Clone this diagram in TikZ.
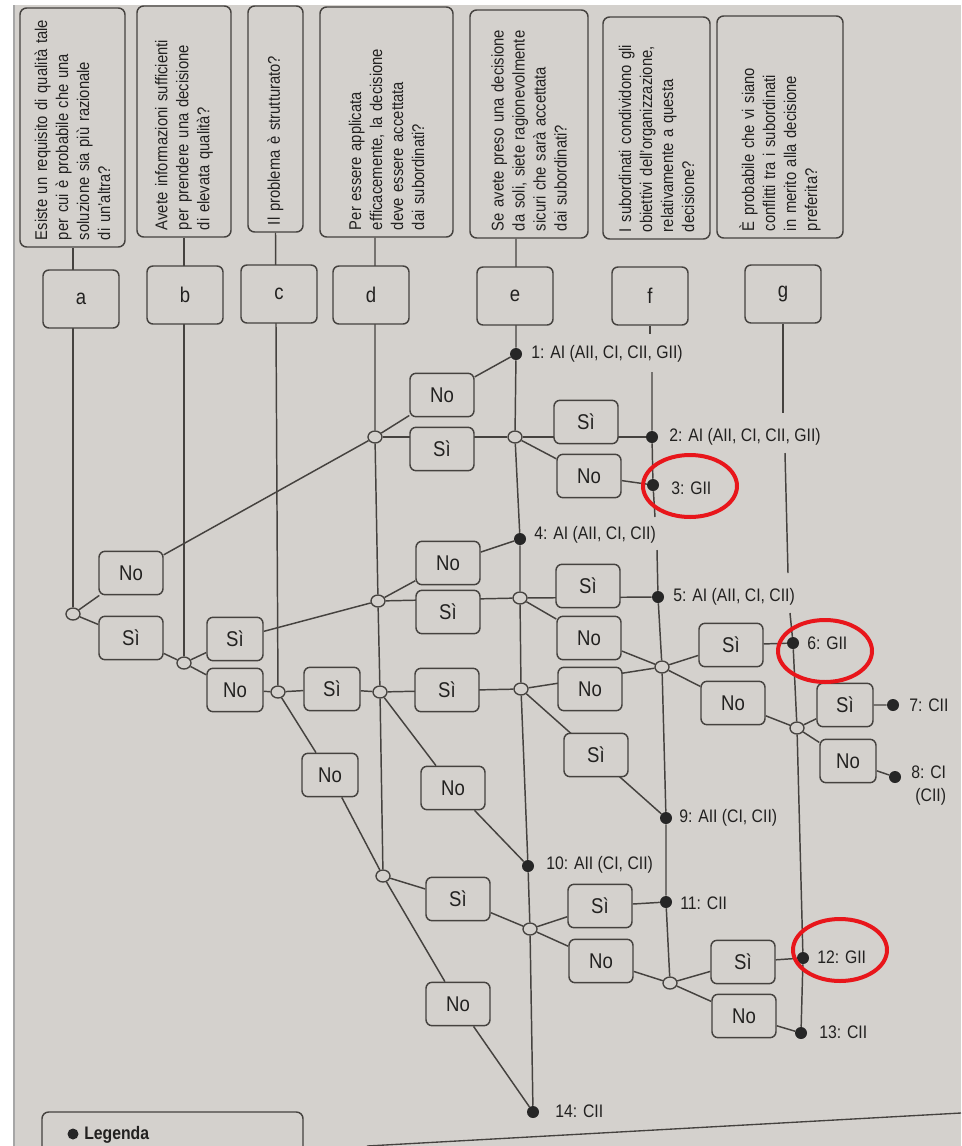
\documentclass[tikz,border=0pt]{standalone}
\usepackage{fontspec}
\setmainfont{Liberation Sans}[FakeStretch=0.87]
\usetikzlibrary{shapes.geometric}
\pgfdeclarelayer{pagebg}
\pgfdeclarelayer{edges}
\pgfsetlayers{pagebg,edges,main}
\definecolor{pagec}{HTML}{D4D1CD}
\definecolor{linec}{HTML}{45423F}
\definecolor{textc}{HTML}{222120}
\definecolor{markred}{HTML}{E8161B}
\newcommand\hdrfont{\fontsize{12.75}{15.75}\selectfont}
\newcommand\boxfont{\fontsize{16}{18}\selectfont}
\newcommand\labfont{\fontsize{13.6}{17}\selectfont}
\begin{document}
\begin{tikzpicture}[x=0.75pt,y=-0.75pt,
  edge/.style={draw=linec,line width=1.1pt},
  hdr/.style={draw=linec,fill=pagec,line width=1.1pt,rounded corners=5pt,rotate=90,
    align=left,inner xsep=5.25pt,inner ysep=0pt,font=\hdrfont,text=textc},
  letterbox/.style={draw=linec,fill=pagec,line width=1.1pt,rounded corners=4.5pt,
    minimum width=57pt,minimum height=43.5pt,inner sep=0pt,font=\boxfont,text=textc},
  ans/.style={draw=linec,fill=pagec,line width=1.1pt,rounded corners=4.5pt,
    minimum width=48pt,minimum height=32.5pt,inner sep=0pt,font=\boxfont,text=textc},
  ansn/.style={ans,minimum width=42pt},
  junc/.style={ellipse,draw=linec,fill=pagec,line width=1pt,minimum width=10.5pt,
    minimum height=9pt,inner sep=0pt},
  enddot/.style={circle,fill=black!85,minimum size=9pt,inner sep=0pt},
  lab/.style={anchor=west,inner sep=0pt,font=\labfont,text=textc},
  redmark/.style={ellipse,draw=markred,line width=3pt,minimum width=70.5pt,
    minimum height=46.5pt,inner sep=0pt}]
\useasboundingbox (0,0) rectangle (961,1146);
\clip (0,0) rectangle (961,1146);
\begin{pgfonlayer}{pagebg}
\fill[white] (0,0) rectangle (961,1146);
\fill[pagec] (14,5) rectangle (961,1146);
\draw[gray!70,line width=0.8pt] (14,5) -- (14,1146);
\end{pgfonlayer}

% header questions
\node[hdr,minimum width=179.25pt,minimum height=78.75pt,text width=168.75pt] (qa) at (72.5,127.5)
  {Esiste un requisito di qualità tale\\per cui è probabile che una\\soluzione sia più razionale\\di un'altra?};
\node[hdr,minimum width=173.25pt,minimum height=70.5pt,text width=162.75pt] (qb) at (184,121.5)
  {Avete informazioni sufficienti\\per prendere una decisione\\di elevata qualità?};
\node[hdr,minimum width=169.5pt,minimum height=41.25pt,text width=159pt] (qc) at (275.5,119)
  {Il problema è strutturato?};
\node[hdr,minimum width=172.5pt,minimum height=99.75pt,text width=162pt] (qd) at (386.5,122)
  {Per essere applicata\\efficacemente, la decisione\\deve essere accettata\\dai subordinati?};
\node[hdr,minimum width=171pt,minimum height=88.5pt,text width=160.5pt] (qe) at (529,124)
  {Se avete preso una decisione\\da soli, siete ragionevolmente\\sicuri che sarà accettata\\dai subordinati?};
\node[hdr,minimum width=166.5pt,minimum height=80.25pt,text width=156pt] (qf) at (656.5,128)
  {I subordinati condividono gli\\obiettivi dell'organizzazione,\\relativamente a questa\\decisione?};
\node[hdr,minimum width=166.5pt,minimum height=94.5pt,text width=156pt] (qg) at (780,127)
  {È probabile che vi siano\\conflitti tra i subordinati\\in merito alla decisione\\preferita?};

% letter boxes
\node[letterbox] (la) at (81,299) {a};
\node[letterbox] (lb) at (185,295) {b};
\node[letterbox] (lc) at (279,294) {c};
\node[letterbox] (ld) at (371,295) {d};
\node[letterbox] (le) at (515,296) {e};
\node[letterbox] (lf) at (650,296) {f};
\node[letterbox] (lg) at (783,294) {g};

% junctions
\node[junc] (ja) at (73,614) {};
\node[junc] (jb) at (184,663) {};
\node[junc] (jc) at (278,692) {};
\node[junc] (jd1) at (375,437) {};
\node[junc] (jd2) at (378,601) {};
\node[junc] (jd3) at (380,692) {};
\node[junc] (jd4) at (383,876) {};
\node[junc] (je1) at (515,437) {};
\node[junc] (je2) at (520,598) {};
\node[junc] (je3) at (521,689) {};
\node[junc] (je4) at (530,929) {};
\node[junc] (jf1) at (662,667) {};
\node[junc] (jf2) at (670,983) {};
\node[junc] (jg1) at (797,728) {};

% end dots
\node[enddot] (t1) at (516,354) {};
\node[enddot] (t2) at (652,437) {};
\node[enddot] (t3) at (653,485) {};
\node[enddot] (t4) at (520,539) {};
\node[enddot] (t5) at (658,597) {};
\node[enddot] (t6) at (793,643) {};
\node[enddot] (t7) at (893,705) {};
\node[enddot] (t8) at (895,777) {};
\node[enddot] (t9) at (666,818) {};
\node[enddot] (t10) at (528,866) {};
\node[enddot] (t11) at (666,902) {};
\node[enddot] (t12) at (803,958) {};
\node[enddot] (t13) at (801,1033) {};
\node[enddot] (t14) at (533,1112) {};

% answer boxes
\node[ans] (a_no) at (131,573) {No};
\node[ans] (a_si) at (131,638) {Sì};
\node[ansn] (b_si) at (235,639) {Sì};
\node[ansn] (b_no) at (235,690) {No};
\node[ansn] (c_si) at (332,689) {Sì};
\node[ansn] (c_no) at (330,775) {No};
\node[ans] (d1_no) at (442,395) {No};
\node[ans] (d1_si) at (442,449) {Sì};
\node[ans] (d2_no) at (448,563) {No};
\node[ans] (d2_si) at (448,612) {Sì};
\node[ans] (d3_si) at (447,690) {Sì};
\node[ans] (d3_no) at (453,788) {No};
\node[ans] (d4_si) at (458,899) {Sì};
\node[ans] (d4_no) at (458,1004) {No};
\node[ans] (e1_si) at (586,422) {Sì};
\node[ans] (e1_no) at (589,476) {No};
\node[ans] (e2_si) at (588,586) {Sì};
\node[ans] (e2_no) at (589,638) {No};
\node[ans] (e3_no) at (590,689) {No};
\node[ans] (e3_si) at (596,755) {Sì};
\node[ans] (e4_si) at (600,906) {Sì};
\node[ans] (e4_no) at (601,961) {No};
\node[ans] (f1_si) at (731,645) {Sì};
\node[ans] (f1_no) at (733,703) {No};
\node[ans] (f2_si) at (743,962) {Sì};
\node[ans] (f2_no) at (744,1016) {No};
\node[ansn] (g1_si) at (845,705) {Sì};
\node[ansn] (g1_no) at (848,761) {No};

% outcome labels
\node[lab] (o1) at (531,354) {1: AI (AII, CI, CII, GII)};
\node[lab] (o2) at (669,437) {2: AI (AII, CI, CII, GII)};
\node[lab] (o3) at (671,488) {3: GII};
\node[lab] (o4) at (534,535) {4: AI (AII, CI, CII)};
\node[lab] (o5) at (673,597) {5: AI (AII, CI, CII)};
\node[lab] (o6) at (807,643) {6: GII};
\node[lab] (o7) at (909,705) {7: CII};
\node[lab,anchor=north west,align=right] (o8) at (911,766) {8: CI\\(CII)};
\node[lab] (o9) at (679,818) {9: AII (CI, CII)};
\node[lab] (o10) at (546,865) {10: AII (CI, CII)};
\node[lab] (o11) at (680,903) {11: CII};
\node[lab] (o12) at (817,957) {12: GII};
\node[lab] (o13) at (819,1032) {13: CII};
\node[lab] (o14) at (555,1111) {14: CII};

% red marks
\node[redmark] (r3) at (690,486) {};
\node[redmark] (r6) at (825,651) {};
\node[redmark] (r12) at (840,950) {};

% free ends of the broken columns
\coordinate (fa) at (652,372);
\coordinate (fb) at (655,517);
\coordinate (fc) at (657,550);
\coordinate (ga) at (783,413);
\coordinate (gb) at (785,453);
\coordinate (gc) at (788,573);
\coordinate (gd) at (790,613);

\begin{pgfonlayer}{edges}
% columns
\draw[edge] (ja) -- (ja |- qa.west);
\draw[edge] (jb) -- (jb |- qb.west);
\draw[edge] (jc) -- (qc.west);
\draw[edge] (jd4) -- (jd3) -- (jd2) -- (jd1) -- (jd1 |- qd.west);
\draw[edge] (t14) -- (je4) -- (t10) -- (je3) -- (je2) -- (t4) -- (je1) -- (t1) -- (t1 |- qe.west);
\draw[edge] (lf.south) -- ++(0,8);
\draw[edge] (fa) -- (t2) -- (t3) -- (fb);
\draw[edge] (fc) -- (t5) -- (jf1) -- (t9) -- (t11) -- (jf2);
\draw[edge] (lg.south) -- (ga);
\draw[edge] (gb) -- (gc);
\draw[edge] (gd) -- (t6) -- (jg1) -- (t12) -- (t13);
% branches
\draw[edge] (ja) -- (a_no) -- (jd1);
\draw[edge] (ja) -- (a_si) -- (jb);
\draw[edge] (jb) -- (b_si) -- (jd2);
\draw[edge] (jb) -- (b_no) -- (jc);
\draw[edge] (jc) -- (c_si) -- (jd3);
\draw[edge] (jc) -- (c_no) -- (jd4);
\draw[edge] (jd1) -- (d1_no) -- (t1);
\draw[edge] (jd1) -- (je1);
\draw[edge] (jd2) -- (d2_no) -- (t4);
\draw[edge] (jd2) -- (je2);
\draw[edge] (jd3) -- (je3);
\draw[edge] (jd3) -- (d3_no) -- (t10);
\draw[edge] (jd4) -- (d4_si) -- (je4);
\draw[edge] (jd4) -- (d4_no) -- (t14);
\draw[edge] (je1) -- (t2);
\draw[edge] (je1) -- (e1_no) -- (t3);
\draw[edge] (je2) -- (t5);
\draw[edge] (je2) -- (e2_no) -- (jf1);
\draw[edge] (je3) -- (jf1);
\draw[edge] (je3) -- (t9);
\draw[edge] (je4) -- (e4_si) -- (t11);
\draw[edge] (je4) -- (e4_no) -- (jf2);
\draw[edge] (jf1) -- (f1_si) -- (t6);
\draw[edge] (jf1) -- (f1_no) -- (jg1);
\draw[edge] (jf2) -- (f2_si) -- (t12);
\draw[edge] (jf2) -- (f2_no) -- (t13);
\draw[edge] (jg1) -- (g1_si) -- (t7);
\draw[edge] (jg1) -- (g1_no) -- (t8);
\end{pgfonlayer}

% legend box (cut by the page edge)
\node[draw=linec,line width=1.1pt,rounded corners=5pt,minimum width=195.75pt,minimum height=58.5pt] (legend) at (172.5,1151) {};
\fill[black!85] (73,1134) circle (5.5);
\node[anchor=base west,inner sep=0pt,font=\labfont\bfseries,text=textc] (legtxt) at (84,1139) {Legenda};
\draw[linec,line width=1pt] (367,1146) -- (961,1113);
\end{tikzpicture}
\end{document}
